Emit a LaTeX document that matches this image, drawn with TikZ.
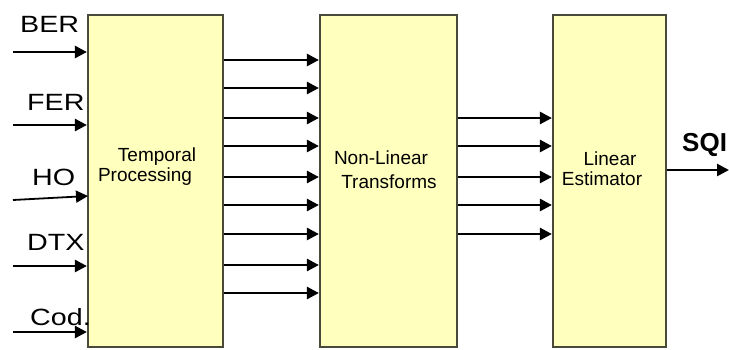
\documentclass[tikz,border=0pt]{standalone}
\usepackage{fontspec}
\setmainfont{Liberation Sans}
\usetikzlibrary{arrows.meta}
\definecolor{boxfill}{HTML}{FFFFBE}
\definecolor{boxline}{HTML}{4A4A3A}
\tikzset{
  blk/.style={draw=boxline, line width=2.2pt, fill=boxfill, minimum height=332pt, inner sep=0pt},
  blktext/.style={align=center, font=\fontsize{19}{20}\selectfont, inner sep=0pt},
  inlabel/.style={anchor=base west, inner sep=0pt, font=\fontsize{23.5}{26}\selectfont},
  arr/.style={line width=2.6pt, -{Triangle[length=12pt,width=12pt]}}
}
\begin{document}
\begin{tikzpicture}[x=1pt,y=-1pt]
\useasboundingbox (0,0) rectangle (729,349);
\node[blk, minimum width=135pt] (b1) at (155.5,181) {};
\node[blk, minimum width=137pt] (b2) at (388.5,181) {};
\node[blk, minimum width=113pt] (b3) at (609.5,181) {};
\node[blktext] (t1) at (145,167) {\hspace*{24pt}Temporal\\Processing};
\node[blktext, font=\fontsize{19}{24}\selectfont] (t2) at (389,170) {Non-Linear\hspace*{16pt}\\Transforms};
\node[blktext] (t3) at (602,169) {\hspace*{16pt}Linear\\Estimator};
% input labels
\node[inlabel] (lber) at (20,32) {\scalebox{1.22}[1]{BER}};
\node[inlabel] (lfer) at (27,110) {\scalebox{1.22}[1]{FER}};
\node[inlabel] (lho) at (32,185) {\scalebox{1.22}[1]{HO}};
\node[inlabel] (ldtx) at (27,250) {\scalebox{1.22}[1]{DTX}};
\node[inlabel] (lcod) at (30,325) {\scalebox{1.22}[1]{Cod.}};
% input arrows
\coordinate (i1) at (13,52);
\coordinate (i2) at (13,125);
\coordinate (i3) at (13,200);
\coordinate (i3e) at (88,196);
\coordinate (i4) at (13,266);
\coordinate (i5) at (13,332);
\draw[arr] (i1) -- (i1 -| b1.west);
\draw[arr] (i2) -- (i2 -| b1.west);
\draw[arr, line width=1.8pt] (i3) -- (i3e);
\draw[arr] (i4) -- (i4 -| b1.west);
\draw[arr] (i5) -- (i5 -| b1.west);
% box1 -> box2
\foreach \y in {60,88,118,146,177,205,234,265,293} {
  \draw[arr] (b1.east |- 0,\y) -- (b2.west |- 0,\y);
}
% box2 -> box3
\foreach \y in {118,146,177,205,234} {
  \draw[arr] (b2.east |- 0,\y) -- (b3.west |- 0,\y);
}
% output
\coordinate (out) at (729,170);
\draw[arr] (b3.east |- out) -- (out);
\node[anchor=base west, inner sep=0pt, font=\fontsize{26}{28}\selectfont\bfseries] (sqi) at (682,151) {SQI};
\end{tikzpicture}
\end{document}
